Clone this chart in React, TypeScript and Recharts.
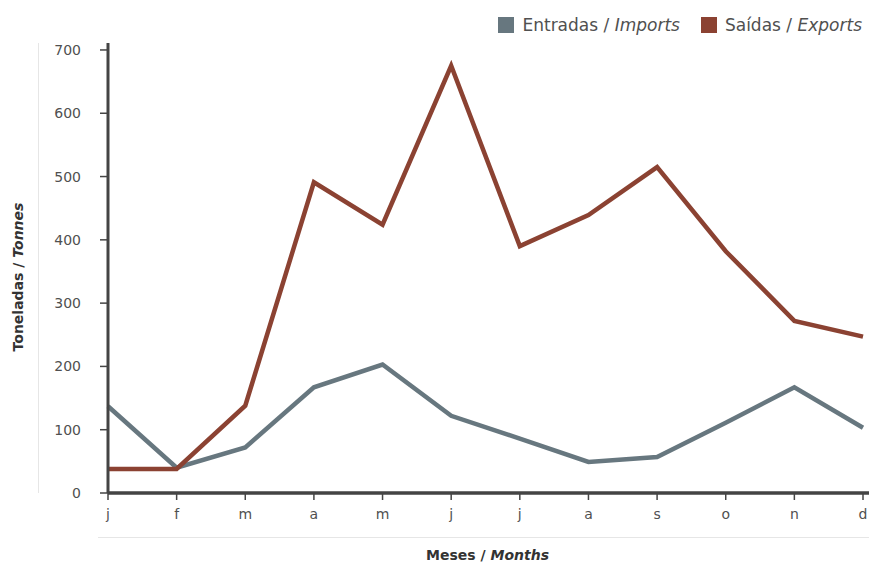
import { LineChart, Line, XAxis, YAxis, ReferenceLine } from "recharts";

const MONTHS = ["j", "f", "m", "a", "m", "j", "j", "a", "s", "o", "n", "d"];
const IMPORTS = [137, 40, 72, 167, 203, 122, 86, 49, 57, 111, 167, 103];
const EXPORTS = [38, 38, 138, 491, 424, 675, 390, 439, 515, 382, 272, 247];
const Y_TICKS = [0, 100, 200, 300, 400, 500, 600, 700];

const IMPORT_COLOR = "#67777f";
const EXPORT_COLOR = "#8b4232";
const AXIS_COLOR = "#444444";
const TEXT_COLOR = "#505050";
const FONT = "'DejaVu Sans', sans-serif";

const rows = MONTHS.map((m, i) => ({
  key: i,
  month: m,
  imports: IMPORTS[i],
  exports: EXPORTS[i],
}));

function XTitle(props: any) {
  const vb = props.viewBox;
  return (
    <text
      x={vb.x + vb.width / 2 - 1}
      y={vb.y + 67}
      textAnchor="middle"
      fontFamily={FONT}
      fontSize={14}
      fontWeight={700}
      fill="#333"
    >
      Meses /{" "}
      <tspan fontStyle="italic">Months</tspan>
    </text>
  );
}

function YTitle(props: any) {
  const vb = props.viewBox;
  const cx = 18;
  const cy = vb.y + vb.height / 2 + 9;
  return (
    <text
      x={cx}
      y={cy}
      transform={`rotate(-90 ${cx} ${cy})`}
      textAnchor="middle"
      dominantBaseline="central"
      fontFamily={FONT}
      fontSize={14}
      fontWeight={700}
      fill="#333"
    >
      Toneladas /{" "}
      <tspan fontStyle="italic">Tonnes</tspan>
    </text>
  );
}

function LegendBox() {
  const item = (color: string, pt: string, en: string, gap: number) => (
    <span style={{ display: "inline-flex", alignItems: "center", marginLeft: gap }}>
      <span
        style={{
          width: 16,
          height: 16,
          background: color,
          display: "inline-block",
          marginRight: 8,
        }}
      />
      <span>
        {pt} / <i>{en}</i>
      </span>
    </span>
  );
  return (
    <div
      style={{
        position: "absolute",
        top: 14,
        right: 7,
        fontFamily: FONT,
        fontSize: 17,
        color: TEXT_COLOR,
        display: "flex",
        whiteSpace: "nowrap",
        lineHeight: "22px",
      }}
    >
      {item(IMPORT_COLOR, "Entradas", "Imports", 0)}
      {item(EXPORT_COLOR, "Saídas", "Exports", 21)}
    </div>
  );
}

export default function App() {
  return (
    <div
      style={{
        position: "absolute",
        left: 0,
        top: 0,
        width: 869,
        height: 564,
        background: "#fff",
      }}
    >
      <div
        style={{
          position: "absolute",
          left: 38,
          top: 43,
          width: 1,
          height: 450,
          background: "#e6e6e6",
        }}
      />
      <div
        style={{
          position: "absolute",
          left: 98,
          top: 537,
          width: 771,
          height: 1,
          background: "#e6e6e6",
        }}
      />
      <LegendBox />
      <LineChart
        width={869}
        height={564}
        data={rows}
        margin={{ top: 43, right: 0, left: 0, bottom: 31 }}
        style={{ position: "absolute", left: 0, top: 0 }}
      >
        <XAxis
          dataKey="key"
          tickFormatter={(i: number) => MONTHS[i]}
          height={40}
          padding={{ left: 0, right: 6 }}
          axisLine={{ stroke: AXIS_COLOR, strokeWidth: 3 }}
          tickLine={{ stroke: AXIS_COLOR, strokeWidth: 1.5 }}
          tickSize={7}
          tickMargin={9}
          interval={0}
          tick={{ fontFamily: FONT, fontSize: 14, fill: TEXT_COLOR }}
          label={<XTitle />}
        />
        <YAxis
          width={108}
          domain={[0, 711]}
          ticks={Y_TICKS}
          axisLine={{ stroke: AXIS_COLOR, strokeWidth: 3 }}
          tickLine={{ stroke: AXIS_COLOR, strokeWidth: 1.5 }}
          tickSize={8}
          tickMargin={19}
          interval={0}
          tick={{ fontFamily: FONT, fontSize: 14, fill: TEXT_COLOR }}
          label={<YTitle />}
        />
        <ReferenceLine y={0} stroke={AXIS_COLOR} strokeWidth={3} />
        <Line
          dataKey="imports"
          stroke={IMPORT_COLOR}
          strokeWidth={4.5}
          dot={false}
          type="linear"
          strokeLinejoin="miter"
          isAnimationActive={false}
        />
        <Line
          dataKey="exports"
          stroke={EXPORT_COLOR}
          strokeWidth={4.5}
          dot={false}
          type="linear"
          strokeLinejoin="miter"
          isAnimationActive={false}
        />
      </LineChart>
    </div>
  );
}
